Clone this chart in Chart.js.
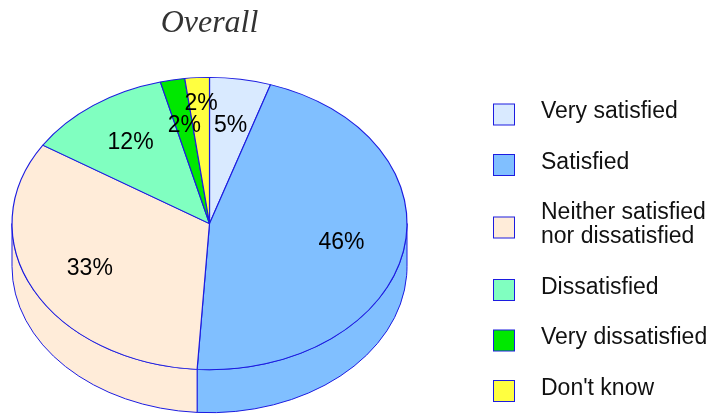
<!DOCTYPE html>
<html>
<head>
<meta charset="utf-8">
<script src="https://cdn.jsdelivr.net/npm/chart.js@4.4.1/dist/chart.umd.min.js"></script>
<style>
  html, body { margin: 0; padding: 0; background: #fff; }
  #wrap { width: 717px; height: 414px; }
</style>
</head>
<body>
<div id="wrap"><canvas id="chart"></canvas></div>
<script>
const categories = [
  "Very satisfied",
  "Satisfied",
  ["Neither satisfied", "nor dissatisfied"],
  "Dissatisfied",
  "Very dissatisfied",
  "Don't know"
];
const percents = [5, 46, 33, 12, 2, 2];
const sliceColors = ["#d9eaff", "#80bfff", "#ffecd9", "#80ffc0", "#00e800", "#ffff40"];
const outline = "#1c1ce0";

// 3d look
const tilt = 0.74;
const depth = 43;
const labelRadius = 0.68;

const pieFrame = (chart) => {
  const area = chart.chartArea;
  const rx = (area.right - area.left) / 2;
  const ry = rx * tilt;
  return { cx: (area.left + area.right) / 2, cy: area.top + ry, rx: rx, ry: ry };
};

const pie3d = {
  id: "pie3d",
  beforeDatasetsDraw(chart) {
    const ctx = chart.ctx;
    const f = pieFrame(chart);
    const arcs = chart.getDatasetMeta(0).data;

    // side walls, only the front half shows
    arcs.forEach((arc, i) => {
      const a1 = Math.max(arc.startAngle, 0);
      const a2 = Math.min(arc.endAngle, Math.PI);
      if (a2 <= a1) return;
      ctx.beginPath();
      ctx.ellipse(f.cx, f.cy, f.rx, f.ry, 0, a1, a2, false);
      ctx.ellipse(f.cx, f.cy + depth, f.rx, f.ry, 0, a2, a1, true);
      ctx.closePath();
      ctx.fillStyle = sliceColors[i];
      ctx.fill();
      ctx.lineWidth = 1;
      ctx.strokeStyle = outline;
      ctx.stroke();
    });

    // squash the top face into an ellipse
    const first = arcs[0];
    const r0 = first.outerRadius;
    ctx.save();
    ctx.translate(f.cx, f.cy);
    ctx.scale(f.rx / r0, f.ry / r0);
    ctx.translate(-first.x, -first.y);
  },
  afterDatasetsDraw(chart) {
    const ctx = chart.ctx;
    ctx.restore();

    const f = pieFrame(chart);
    const arcs = chart.getDatasetMeta(0).data;
    const placed = [];
    ctx.save();
    ctx.font = '23px "Liberation Sans", Arial, sans-serif';
    ctx.textAlign = "center";
    ctx.textBaseline = "middle";
    ctx.fillStyle = "#000";
    arcs.forEach((arc, i) => {
      const mid = (arc.startAngle + arc.endAngle) / 2;
      const x = f.cx + labelRadius * f.rx * Math.cos(mid);
      let y = f.cy + labelRadius * f.ry * Math.sin(mid);
      const text = percents[i] + "%";
      const w = ctx.measureText(text).width;
      const h = 22;
      placed.forEach((p) => {
        if (Math.abs(p.x - x) < (p.w + w) / 2 && Math.abs(p.y - y) < h) {
          y = p.y - h;
        }
      });
      placed.push({ x: x, y: y, w: w });
      ctx.fillText(text, x, y);
    });
    ctx.restore();
  },
  afterDraw(chart) {
    // legend on the right
    const ctx = chart.ctx;
    ctx.save();
    ctx.font = '23px "Liberation Sans", Arial, sans-serif';
    ctx.textAlign = "left";
    ctx.textBaseline = "middle";
    let y = 112;
    const lineH = 24;
    categories.forEach((label, i) => {
      const lines = Array.isArray(label) ? label : [label];
      const boxY = y + ((lines.length - 1) * lineH) / 2 + 3;
      ctx.fillStyle = sliceColors[i];
      ctx.fillRect(493.5, boxY - 11, 21, 21);
      ctx.strokeStyle = outline;
      ctx.lineWidth = 1;
      ctx.strokeRect(493.5, boxY - 11, 21, 21);
      ctx.fillStyle = "#111";
      lines.forEach((line, j) => {
        ctx.fillText(line, 541, y + j * lineH);
      });
      y += (lines.length - 1) * lineH + 50.5;
    });
    ctx.restore();
  }
};

const ctx = document.getElementById("chart").getContext("2d");
const myChart = new Chart(ctx, {
  type: "pie",
  data: {
    labels: categories,
    datasets: [
      {
        data: percents,
        backgroundColor: sliceColors,
        borderColor: outline,
        borderWidth: 1,
      },
    ],
  },
  plugins: [pie3d],
  options: {
    responsive: true,
    maintainAspectRatio: false,
    animation: false,
    layout: {
      padding: { left: 12, right: 310, top: 0, bottom: 0 },
    },
    plugins: {
      legend: { display: false },
      tooltip: { enabled: false },
      title: {
        display: true,
        text: "Overall",
        fullSize: false,
        color: "#333",
        font: {
          family: "'Liberation Serif', serif",
          style: "italic",
          weight: "normal",
          size: 32,
        },
        padding: { top: 4, bottom: 35 },
      },
    },
  },
});
</script>
</body>
</html>
